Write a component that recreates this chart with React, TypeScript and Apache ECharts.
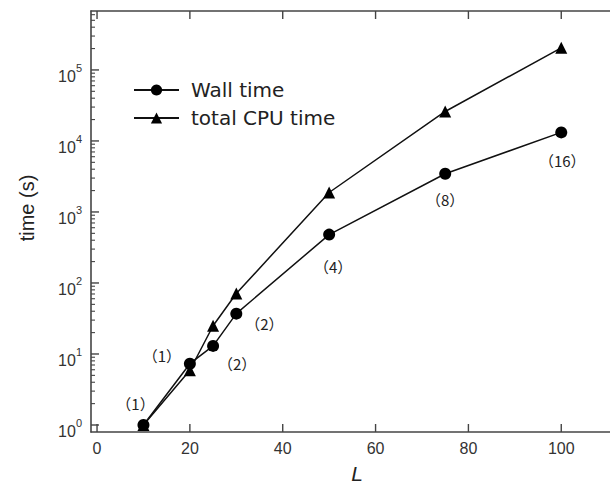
import React, { useEffect, useRef } from "react";
import * as echarts from "echarts";

const sizes = [10, 20, 25, 30, 50, 75, 100];
const wallTime = [1, 7.3, 13, 37, 480, 3450, 13200];
const cpuTime = [1, 5.9, 25, 71, 1880, 26000, 205000];
const nodes = [1, 1, 2, 2, 4, 8, 16];
const xTicks = [0, 20, 40, 60, 80, 100];
const yMajor = [1, 10, 100, 1000, 10000, 100000];
const yMinor: number[] = [];
[1, 10, 100, 1000, 10000, 100000].forEach((d) => {
  for (let k = 2; k <= 9; k++) if (d * k < 676000) yMinor.push(d * k);
});
const labelOffsets = [
  [-8, -22],
  [-28, -8],
  [24, 18],
  [28, 10],
  [4, 32],
  [0, 26],
  [1, 28],
];

const AX = "#444";
const FONT = "'Liberation Sans', Arial, sans-serif";
const X_MIN = -1.3;
const X_MAX = 110.5;
const Y_MIN = 0.797;
const Y_MAX = 676000;

export default function App() {
  const ref = useRef<HTMLDivElement>(null);
  useEffect(() => {
    if (!ref.current) return;
    const chart = echarts.init(ref.current, null, { renderer: "svg" });
    const axisLineStyle = { color: AX, width: 1.6 };
    // [x, y, dx, dy] : tick anchored on an axis, drawn inward
    const tickData = [
      ...yMajor.map((v) => [X_MIN, v, 8, 0]),
      ...yMinor.map((v) => [X_MIN, v, 4, 0]),
      ...xTicks.map((v) => [v, Y_MIN, 0, -8]),
      ...xTicks.map((v) => [v, Y_MAX, 0, 8]),
    ];
    chart.setOption({
      animation: false,
      grid: { left: 91, right: 0, top: 11, bottom: 51 },
      legend: {
        orient: "vertical",
        left: 133,
        top: 80,
        padding: 0,
        itemWidth: 45,
        itemHeight: 14,
        itemGap: 8,
        textStyle: {
          fontFamily: "'DejaVu Sans', sans-serif",
          fontSize: 20,
          color: "#222",
          padding: [0, 0, 0, 7],
        },
        data: ["Wall time", "total CPU time"],
      },
      xAxis: [
        {
          type: "value",
          min: X_MIN,
          max: X_MAX,
          position: "bottom",
          splitLine: { show: false },
          axisLine: { onZero: false, lineStyle: axisLineStyle },
          axisTick: { show: false },
          axisLabel: {
            customValues: xTicks,
            fontFamily: FONT,
            fontSize: 16,
            color: "#333",
            margin: 8,
          },
        },
        {
          type: "value",
          min: X_MIN,
          max: X_MAX,
          position: "top",
          splitLine: { show: false },
          axisLine: { onZero: false, lineStyle: axisLineStyle },
          axisTick: { show: false },
          axisLabel: { show: false },
        },
      ],
      yAxis: [
        {
          type: "log",
          min: Y_MIN,
          max: Y_MAX,
          position: "left",
          splitLine: { show: false },
          axisLine: { onZero: false, lineStyle: axisLineStyle },
          axisTick: { show: false },
          axisLabel: {
            customValues: yMajor,
            margin: 9,
            padding: [7, 0, 0, 0],
            formatter: (v: number) =>
              `{b|10}{s|${Math.round(Math.log10(v))}}`,
            rich: {
              b: {
                fontFamily: FONT,
                fontSize: 16,
                color: "#333",
                lineHeight: 22,
                verticalAlign: "bottom",
              },
              s: {
                fontFamily: FONT,
                fontSize: 11,
                color: "#333",
                lineHeight: 12,
                verticalAlign: "top",
              },
            },
          },
        },
      ],
      graphic: [
        {
          type: "text",
          x: 27,
          y: 208,
          rotation: Math.PI / 2,
          style: {
            text: "time (s)",
            font: "20px 'Liberation Sans', Arial, sans-serif",
            fill: "#222",
            textAlign: "center",
            textVerticalAlign: "middle",
          },
        },
        {
          type: "text",
          x: 357,
          y: 473,
          style: {
            text: "L",
            font: "italic 21px 'Liberation Sans', Arial, sans-serif",
            fill: "#222",
            textAlign: "center",
            textVerticalAlign: "middle",
          },
        },
      ],
      series: [
        {
          name: "ticks",
          type: "custom",
          silent: true,
          clip: false,
          z: 10,
          xAxisIndex: 0,
          yAxisIndex: 0,
          data: tickData,
          renderItem: (params: any, api: any) => {
            const p = api.coord([api.value(0), api.value(1)]);
            const dx = api.value(2);
            const dy = api.value(3);
            const minor = dx > 0 && dx < 5;
            return {
              type: "line",
              shape: { x1: p[0], y1: p[1], x2: p[0] + dx, y2: p[1] + dy },
              style: { stroke: AX, lineWidth: minor ? 1.1 : 1.4 },
            };
          },
        },
        {
          name: "Wall time",
          type: "line",
          xAxisIndex: 0,
          yAxisIndex: 0,
          symbol: "circle",
          symbolSize: 12,
          itemStyle: { color: "#000" },
          lineStyle: { color: "#111", width: 1.5 },
          z: 3,
          data: sizes.map((L, i) => ({
            value: [L, wallTime[i]],
            label: {
              show: true,
              position: "inside",
              offset: labelOffsets[i],
              formatter: `（${nodes[i]}）`,
              fontFamily: "'Noto Sans CJK JP', sans-serif",
              fontSize: 15,
              color: "#222",
            },
          })),
        },
        {
          name: "total CPU time",
          type: "line",
          xAxisIndex: 0,
          yAxisIndex: 0,
          symbol: "triangle",
          symbolSize: 12,
          itemStyle: { color: "#000" },
          lineStyle: { color: "#111", width: 1.5 },
          z: 2,
          data: sizes.map((L, i) => [L, cpuTime[i]]),
        },
      ],
    });
    return () => chart.dispose();
  }, []);
  return (
    <div
      ref={ref}
      style={{ position: "fixed", left: 0, top: 0, width: 610, height: 483, background: "#fff" }}
    />
  );
}
